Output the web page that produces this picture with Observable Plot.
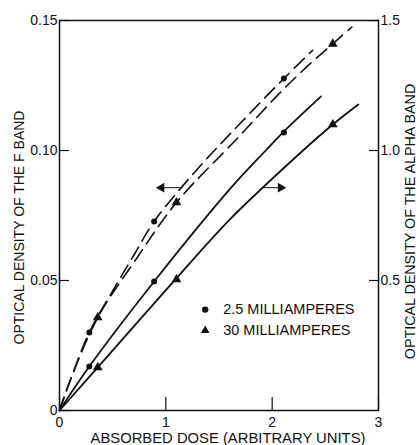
<!DOCTYPE html>
<html>
<head>
<meta charset="utf-8">
<script src="https://cdn.jsdelivr.net/npm/d3@7"></script>
<script src="https://cdn.jsdelivr.net/npm/@observablehq/plot@0.6"></script>
<style>
  html, body { margin: 0; padding: 0; background: #fff; }
  #chart svg { display: block; }
</style>
</head>
<body>
<div id="chart"></div>
<script>
// Measured points: absorbed dose (arbitrary units) for each beam current
const dose25 = [0.28, 0.89, 2.11];
const dose30 = [0.36, 1.10, 2.57];
// F band optical density (left axis)
const fBand25 = [0.030, 0.0727, 0.1277];
const fBand30 = [0.0358, 0.080, 0.141];
// Alpha band optical density (right axis)
const alpha25 = [0.169, 0.496, 1.069];
const alpha30 = [0.166, 0.504, 1.10];

// Fitted curves, F band (dashed)
const fCurveDose25 = [0, 0.1, 0.28, 0.5, 0.7, 0.89, 1.3, 1.68, 2.11, 2.38];
const fCurveDens25 = [0, 0.0115, 0.030, 0.046, 0.0598, 0.0727, 0.093, 0.1096, 0.1277, 0.1385];
const fCurveDose30 = [0, 0.1, 0.36, 0.7, 1.10, 1.68, 2.05, 2.36, 2.57, 2.75];
const fCurveDens30 = [0, 0.0115, 0.0358, 0.057, 0.080, 0.105, 0.1212, 0.1335, 0.141, 0.1475];

// Fitted curves, alpha band (solid)
const aCurveDose25 = [0, 0.28, 0.89, 1.61, 1.94, 2.1, 2.46];
const aCurveDens25 = [0, 0.169, 0.496, 0.855, 1.0, 1.069, 1.208];
const aCurveDose30 = [0, 0.36, 1.09, 1.61, 2.29, 2.57, 2.81];
const aCurveDens30 = [0, 0.166, 0.504, 0.738, 1.0, 1.10, 1.177];

// Axis ticks and labels
const xTicks = [0, 1, 2, 3];
const leftTicks = [0, 0.05, 0.10, 0.15];
const rightTicks = [0.5, 1.0, 1.5];
const xTitle = "ABSORBED DOSE (ARBITRARY UNITS)";
const leftTitle = "OPTICAL DENSITY OF THE F BAND";
const rightTitle = "OPTICAL DENSITY OF THE ALPHA BAND";

// Legend
const legendLabels = ["2.5 MILLIAMPERES", "30 MILLIAMPERES"];
const legendSymbols = ["circle", "triangle"];

// Arrows pointing each family of curves to its axis (dose span, F-band height)
const leftArrowDose = [1.16, 0.96];
const rightArrowDose = [1.91, 2.08];
const arrowDensity = 0.0857;

// The alpha band scale is ten times the F band scale
const ALPHA_RATIO = 10;

const toRows = (xs, ys, k = 1) => xs.map((x, i) => ({x, y: ys[i] / k}));
const fLine25 = toRows(fCurveDose25, fCurveDens25);
const fLine30 = toRows(fCurveDose30, fCurveDens30);
const aLine25 = toRows(aCurveDose25, aCurveDens25, ALPHA_RATIO);
const aLine30 = toRows(aCurveDose30, aCurveDens30, ALPHA_RATIO);
const pts25 = [...toRows(dose25, fBand25), ...toRows(dose25, alpha25, ALPHA_RATIO)];
const pts30 = [...toRows(dose30, fBand30), ...toRows(dose30, alpha30, ALPHA_RATIO)];
const legendRows = legendLabels.map((label, i) => ({
  label, symbol: legendSymbols[i], x: 1.37, y: [0.0388, 0.0308][i]
}));

const ink = "#111";
const chart = Plot.plot({
  width: 420,
  height: 445,
  marginLeft: 59,
  marginRight: 42,
  marginTop: 20,
  marginBottom: 35,
  x: {domain: [0, 3]},
  y: {domain: [0, 0.15]},
  style: {fontFamily: "'Liberation Sans', Arial, sans-serif", fontSize: "14px", color: ink, background: "#fff"},
  marks: [
    Plot.frame({stroke: ink, strokeWidth: 1.5}),
    Plot.axisX({ticks: xTicks, tickSize: -13, tickPadding: 20, tickFormat: d => String(d), label: null, stroke: ink, strokeWidth: 1.2}),
    Plot.axisY({anchor: "left", ticks: leftTicks, tickSize: -10, tickPadding: 12,
      tickFormat: d => d === 0 ? "0" : d.toFixed(2), label: null, stroke: ink, strokeWidth: 1.2}),
    Plot.axisY({anchor: "right", ticks: rightTicks.map(v => v / ALPHA_RATIO), tickSize: -10, tickPadding: 12,
      tickFormat: d => (d * ALPHA_RATIO).toFixed(1), label: null, stroke: ink, strokeWidth: 1.2}),

    Plot.line(fLine25, {x: "x", y: "y", curve: "catmull-rom", stroke: ink, strokeWidth: 1.6, strokeDasharray: "14,7"}),
    Plot.line(fLine30, {x: "x", y: "y", curve: "catmull-rom", stroke: ink, strokeWidth: 1.6, strokeDasharray: "14,7"}),
    Plot.line(aLine25, {x: "x", y: "y", curve: "catmull-rom", stroke: ink, strokeWidth: 1.8}),
    Plot.line(aLine30, {x: "x", y: "y", curve: "catmull-rom", stroke: ink, strokeWidth: 1.8}),

    Plot.dot(pts25, {x: "x", y: "y", r: 3, fill: ink, stroke: null}),
    Plot.dot(pts30, {x: "x", y: "y", r: 3.6, symbol: "triangle", fill: ink, stroke: null}),

    // direction arrows
    Plot.link([0], {x1: () => leftArrowDose[0], x2: () => leftArrowDose[1], y1: () => arrowDensity, y2: () => arrowDensity, stroke: ink, strokeWidth: 1}),
    Plot.dot([0], {x: () => leftArrowDose[1], y: () => arrowDensity, symbol: "triangle", r: 3.6, rotate: -90, fill: ink, stroke: null}),
    Plot.link([0], {x1: () => rightArrowDose[0], x2: () => rightArrowDose[1], y1: () => arrowDensity, y2: () => arrowDensity, stroke: ink, strokeWidth: 1}),
    Plot.dot([0], {x: () => rightArrowDose[1], y: () => arrowDensity, symbol: "triangle", r: 3.6, rotate: 90, fill: ink, stroke: null}),

    // legend
    Plot.dot(legendRows, {x: "x", y: "y", symbol: "symbol", r: 3.2, fill: ink, stroke: null}),
    Plot.text(legendRows, {x: "x", y: "y", text: "label", dx: 18, textAnchor: "start", fontSize: 14.5, fill: ink}),

    // axis titles
    Plot.text([xTitle], {frameAnchor: "bottom", dx: 9, dy: 28, textAnchor: "middle", lineAnchor: "middle", fontSize: 14.8, fill: ink}),
    Plot.text([leftTitle], {frameAnchor: "left", dx: -40, dy: 12, rotate: -90, textAnchor: "middle", lineAnchor: "middle", fontSize: 14, fill: ink}),
    Plot.text([rightTitle], {frameAnchor: "right", dx: 32, dy: 6, rotate: -90, textAnchor: "middle", lineAnchor: "middle", fontSize: 14.3, fill: ink})
  ]
});

document.getElementById("chart").appendChild(chart);
</script>
</body>
</html>
